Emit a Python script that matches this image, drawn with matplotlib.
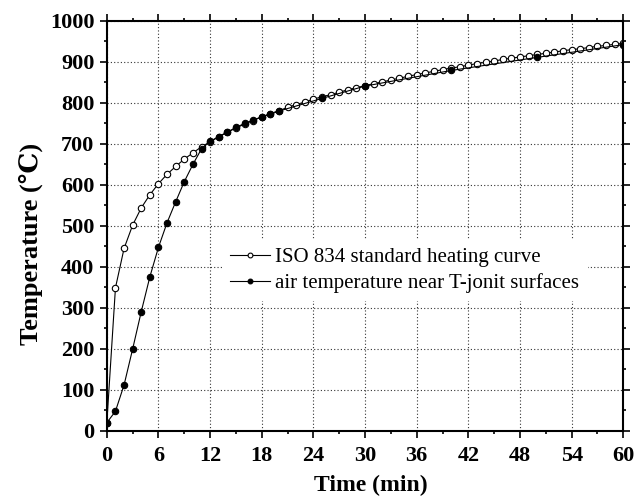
import matplotlib
matplotlib.use('Agg')
import matplotlib.pyplot as plt
from matplotlib.ticker import MultipleLocator

# ISO 834 standard heating curve, one point per minute
iso_time = list(range(0, 61))
iso_temp = [20, 349, 445, 502, 544, 576, 603, 626, 645, 663,
            678, 693, 705, 717, 728, 739, 748, 757, 766, 774,
            781, 789, 796, 802, 809, 815, 820, 826, 832, 837,
            842, 847, 851, 856, 860, 865, 869, 873, 877, 881,
            885, 888, 892, 896, 899, 902, 906, 909, 912, 915,
            918, 921, 924, 927, 930, 932, 935, 938, 940, 943,
            945]

# measured air temperature near the T-joint surfaces
air_time = [0, 1, 2, 3, 4, 5, 6, 7, 8, 9, 10, 11, 12, 13, 14, 15, 16,
            17, 18, 19, 20, 25, 30, 40, 50, 60]
air_temp = [20, 48, 112, 200, 291, 376, 448, 508, 559, 608, 650, 688,
            706, 718, 729, 740, 750, 758, 766, 772, 780, 811, 841, 879,
            911, 942]

plt.rcParams['font.family'] = ['Liberation Serif', 'DejaVu Serif']

fig = plt.figure(figsize=(6.36, 4.97), dpi=100)
ax = fig.add_axes([0.168, 0.133, 0.812, 0.825])

ax.plot(iso_time, iso_temp, color='black', lw=0.8, marker='o', ms=4.6,
        mfc='white', mec='black', mew=0.8,
        label='ISO 834 standard heating curve')
ax.plot(air_time, air_temp, color='black', lw=0.8, marker='o', ms=4.6,
        mfc='black', mec='black', mew=0.8,
        label='air temperature near T-jonit surfaces')

ax.set_xlim(0, 60)
ax.set_ylim(0, 1000)
ax.xaxis.set_major_locator(MultipleLocator(6))
ax.xaxis.set_minor_locator(MultipleLocator(3))
ax.yaxis.set_major_locator(MultipleLocator(100))
ax.yaxis.set_minor_locator(MultipleLocator(50))

ax.grid(True, which='major', linestyle=(0, (1, 2)), color='#333333', lw=0.8)
ax.set_axisbelow(True)

ax.tick_params(which='both', direction='out', top=True, right=True,
               width=1.2, labelsize=16)
ax.tick_params(which='major', length=5)
ax.tick_params(which='minor', length=2.5)
ax.tick_params(labeltop=False, labelright=False)
ax.tick_params(axis='x', pad=6)
ax.tick_params(axis='y', pad=4)
for s in ax.spines.values():
    s.set_linewidth(1.5)
for lab in ax.get_xticklabels() + ax.get_yticklabels():
    lab.set_fontweight('bold')

ax.set_xlabel('Time (min)', fontsize=17, fontweight='bold', labelpad=6)
ax.xaxis.label.set_x(0.512)
ax.set_ylabel('Temperature (℃)', fontsize=19, fontweight='bold', labelpad=5)
ax.yaxis.label.set_y(0.455)

leg = ax.legend(loc='center left', bbox_to_anchor=(0.203, 0.392), fontsize=15,
                frameon=True, fancybox=False, edgecolor='none',
                facecolor='white', framealpha=1, handlelength=1.9,
                handletextpad=0.25, labelspacing=0.3, borderpad=0.4,
                markerscale=0.75)

fig.savefig('out.png', dpi=100)
